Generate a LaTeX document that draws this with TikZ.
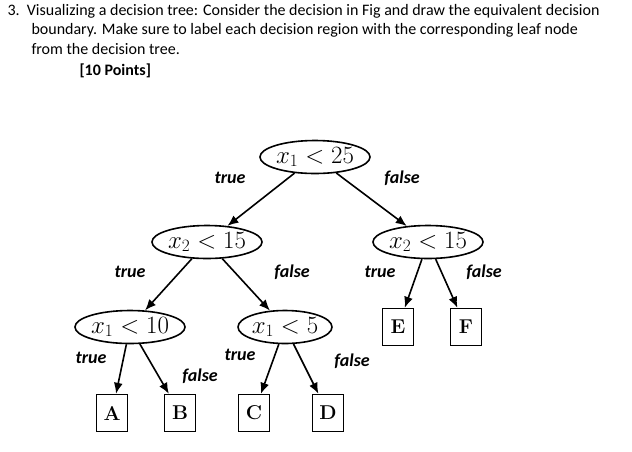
\documentclass[tikz,border=0pt]{standalone}
\usepackage{fontspec}
\setsansfont{Carlito}
\usetikzlibrary{shapes.geometric,arrows.meta}
\tikzset{
 ell/.style={draw,line width=1.6pt,ellipse,inner sep=0pt,minimum height=33pt,font=\fontsize{24}{24}\selectfont},
 leaf/.style={draw,line width=1.4pt,minimum width=31pt,minimum height=37pt,font=\fontsize{20}{20}\selectfont\bfseries},
 lab/.style={font=\sffamily\bfseries\itshape\fontsize{18}{18}\selectfont},
 arr/.style={line width=1.6pt,-{Latex[length=11pt,width=9pt]}},
 txt/.style={font=\sffamily\fontsize{16}{18}\selectfont,anchor=west}
}
\begin{document}
\begin{tikzpicture}[x=1pt,y=-1pt]
\useasboundingbox (0,0) rectangle (632,451);
\node[txt] (t1) at (4,11) {3.\ \ Visualizing a decision tree: Consider the decision in Fig and draw the equivalent decision};
\node[txt] (t2) at (28,30) {boundary. Make sure to label each decision region with the corresponding leaf node};
\node[txt] (t3) at (28,49) {from the decision tree.};
\node[txt,font=\sffamily\bfseries\fontsize{16}{18}\selectfont] (t4) at (76,71) {[10 Points]};
\node[ell] (r) at (315,157) {$x_1<25$};
\node[ell] (l) at (207,242) {$x_2<15$};
\node[ell] (rr) at (428,242) {$x_2<15$};
\node[ell] (ll) at (130,327) {$x_1<10$};
\node[ell] (lr) at (285,327) {$x_1<5$};
\node[leaf] (E) at (398,327) {E};
\node[leaf] (F) at (466,327) {F};
\node[leaf] (A) at (112,413) {A};
\node[leaf] (B) at (180,413) {B};
\node[leaf] (C) at (254,413) {C};
\node[leaf] (D) at (328,413) {D};
\draw[arr] (r) -- (l);
\draw[arr] (r) -- (rr);
\draw[arr] (l) -- (ll);
\draw[arr] (l) -- (lr);
\draw[arr] (rr) -- (E);
\draw[arr] (rr) -- (F);
\draw[arr] (ll) -- (A);
\draw[arr] (ll) -- (B);
\draw[arr] (lr) -- (C);
\draw[arr] (lr) -- (D);
\node[lab] (a1) at (230,178) {true};
\node[lab] (a2) at (402,178) {false};
\node[lab] (a3) at (130,272) {true};
\node[lab] (a4) at (292,272) {false};
\node[lab] (a5) at (380,272) {true};
\node[lab] (a6) at (484,272) {false};
\node[lab] (a7) at (91,358) {true};
\node[lab] (a8) at (200,376) {false};
\node[lab] (a9) at (240,355) {true};
\node[lab] (a10) at (352,361) {false};
\end{tikzpicture}
\end{document}
